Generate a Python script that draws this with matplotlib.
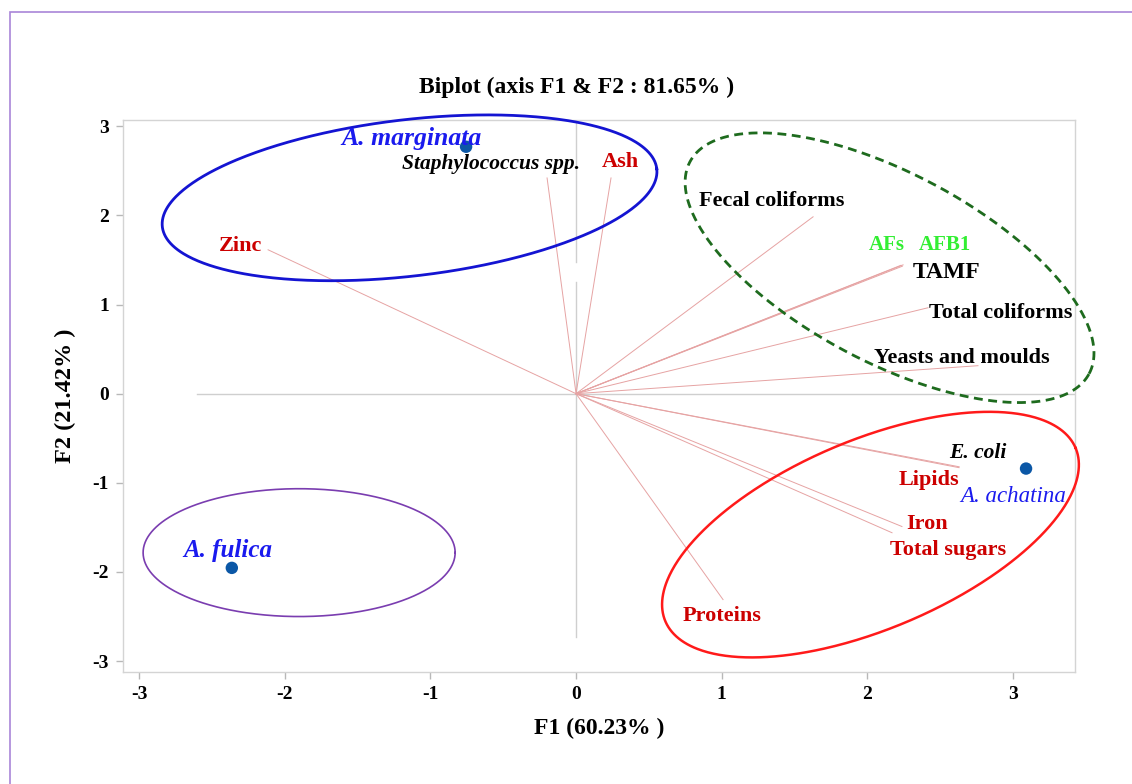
import numpy as np
import matplotlib
matplotlib.use('Agg')
import matplotlib.pyplot as plt
from matplotlib.patches import Rectangle

# ---------------- data ----------------
species = ['A. marginata', 'A. achatina', 'A. fulica']
species_f1 = [-0.755, 3.089, -2.363]
species_f2 = [2.77, -0.84, -1.954]

variables = ['Zinc', 'Staphylococcus spp.', 'Ash', 'Fecal coliforms', 'AFs', 'AFB1', 'TAMF',
             'Total coliforms', 'Yeasts and moulds', 'Lipids', 'E. coli', 'Iron',
             'Total sugars', 'Proteins']
var_f1 = [-2.114, -0.199, 0.240, 1.627, 2.230, 2.240, 2.245, 2.416, 2.759, 2.629, 2.630,
          2.237, 2.169, 1.009]
var_f2 = [1.614, 2.420, 2.420, 1.984, 1.440, 1.430, 1.445, 0.964, 0.314, -0.830, -0.820,
          -1.490, -1.560, -2.310]

x_ticks = [-3, -2, -1, 0, 1, 2, 3]
y_ticks = [-3, -2, -1, 0, 1, 2, 3]

title = 'Biplot (axis F1 & F2 : 81.65% )'
xlabel = 'F1 (60.23% )'
ylabel = 'F2 (21.42% )'

# ---------------- layout / style ----------------
FONT = 'Liberation Serif'
RED = '#cc0000'
BLUE = '#1a1aee'
GREEN = '#33ee33'
BLACK = '#000000'

# label anchor positions (data coords) and styles
var_label_pos = {
    'Zinc': (-2.306, 1.66),
    'Staphylococcus spp.': (-0.583, 2.58),
    'Ash': (0.305, 2.60),
    'Fecal coliforms': (1.345, 2.165),
    'AFs': (2.131, 1.67),
    'AFB1': (2.533, 1.67),
    'TAMF': (2.543, 1.36),
    'Total coliforms': (2.913, 0.90),
    'Yeasts and moulds': (2.649, 0.405),
    'Lipids': (2.419, -0.963),
    'E. coli': (2.759, -0.661),
    'Iron': (2.412, -1.467),
    'Total sugars': (2.557, -1.759),
    'Proteins': (1.002, -2.499),
}
B16 = dict(size=16, weight='bold')
var_label_style = {
    'Zinc': dict(color=RED, **B16),
    'Staphylococcus spp.': dict(color=BLACK, size=15.5, weight='bold', style='italic'),
    'Ash': dict(color=RED, **B16),
    'Fecal coliforms': dict(color=BLACK, **B16),
    'AFs': dict(color=GREEN, size=15, weight='bold'),
    'AFB1': dict(color=GREEN, size=15, weight='bold'),
    'TAMF': dict(color=BLACK, size=17, weight='bold'),
    'Total coliforms': dict(color=BLACK, **B16),
    'Yeasts and moulds': dict(color=BLACK, **B16),
    'Lipids': dict(color=RED, **B16),
    'E. coli': dict(color=BLACK, size=15.5, weight='bold', style='italic'),
    'Iron': dict(color=RED, **B16),
    'Total sugars': dict(color=RED, **B16),
    'Proteins': dict(color=RED, **B16),
}
species_label_pos = {
    'A. marginata': (-1.132, 2.86),
    'A. achatina': (3.003, -1.153),
    'A. fulica': (-2.389, -1.76),
}
species_label_style = {
    'A. marginata': dict(color=BLUE, size=18.5, weight='bold', style='italic'),
    'A. achatina': dict(color=BLUE, size=16.5, weight='normal', style='italic'),
    'A. fulica': dict(color=BLUE, size=18, weight='bold', style='italic'),
}

# group ellipses: centre and two conjugate half-axis vectors (data units)
ellipses = [
    dict(c=(-1.143, 2.197), u=(1.697, 0.326), v=(-0.063, 0.871), color='#1414d2', lw=2.0, ls='-'),
    dict(c=(2.152, 1.413), u=(1.370, -1.189), v=(0.304, 0.935), color='#1e6b1e', lw=2.0, ls=(0, (3.2, 2.0))),
    dict(c=(2.021, -1.581), u=(1.408, 0.972), v=(-0.253, 0.976), color='#ff1a1a', lw=1.8, ls='-'),
    dict(c=(-1.901, -1.783), u=(1.071, 0.0), v=(0.0, 0.717), color='#7a3db0', lw=1.2, ls='-'),
]

plt.rcParams['font.family'] = [FONT, 'DejaVu Serif']

fig = plt.figure(figsize=(11.32, 7.84), dpi=100)
ax = fig.add_axes([123 / 1132, 1 - 672 / 784, (1075 - 123) / 1132, (672 - 120) / 784])
ax.set_xlim(-3.11, 3.425)
ax.set_ylim(-3.122, 3.07)

for s in ax.spines.values():
    s.set_color('#d4d4d4')
    s.set_linewidth(1.0)

ax.set_xticks(x_ticks)
ax.set_yticks(y_ticks)
ax.set_xticklabels([str(t) for t in x_ticks])
ax.set_yticklabels([str(t) for t in y_ticks])
ax.tick_params(axis='both', direction='out', length=5, width=1, color='#b8b8b8',
               labelsize=14, pad=5)
for lab in ax.get_xticklabels() + ax.get_yticklabels():
    lab.set_fontweight('bold')
    lab.set_family(FONT)

# reference axes through origin
ax.plot([-2.6, 3.425], [0, 0], color='#cfcfcf', lw=1.0, zorder=1)
ax.plot([0, 0], [3.07, 1.48], color='#cfcfcf', lw=1.0, zorder=1)
ax.plot([0, 0], [1.25, -2.73], color='#cfcfcf', lw=1.0, zorder=1)

# variable vectors
for f1, f2 in zip(var_f1, var_f2):
    ax.plot([0, f1], [0, f2], color='#e6a3a3', lw=0.7, zorder=2)

# ellipses
t = np.linspace(0, 2 * np.pi, 600)
for e in ellipses:
    ex = e['c'][0] + e['u'][0] * np.cos(t) + e['v'][0] * np.sin(t)
    ey = e['c'][1] + e['u'][1] * np.cos(t) + e['v'][1] * np.sin(t)
    ax.plot(ex, ey, color=e['color'], lw=e['lw'], ls=e['ls'], clip_on=False, zorder=3)

# species points
ax.scatter(species_f1, species_f2, s=80, color='#0b57a6', zorder=5, edgecolors='none')

# labels
for name in variables:
    x, y = var_label_pos[name]
    ax.text(x, y, name, ha='center', va='center', family=FONT, zorder=6,
            **var_label_style[name])
for name in species:
    x, y = species_label_pos[name]
    ax.text(x, y, name, ha='center', va='center', family=FONT, zorder=6,
            **species_label_style[name])

# titles
fig.text(577 / 1132, 1 - 87 / 784, title, ha='center', va='center', family=FONT,
         fontsize=17, fontweight='bold')
ax.set_xlabel(xlabel, family=FONT, fontsize=17, fontweight='bold', labelpad=11)
ax.set_ylabel(ylabel, family=FONT, fontsize=17.5, fontweight='bold', labelpad=12)

# outer border
fig.patches.append(Rectangle((10 / 1132, -0.1), 1.2, 1.1 - 12 / 784, transform=fig.transFigure,
                             fill=False, edgecolor='#a985d8', lw=1.2))

fig.savefig('out.png', dpi=100)
